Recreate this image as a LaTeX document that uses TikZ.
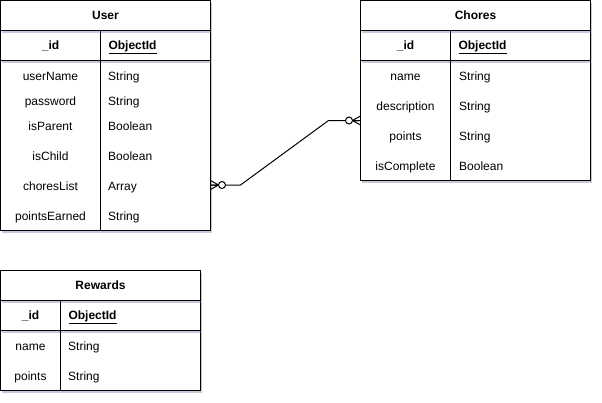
\documentclass[tikz,border=0pt]{standalone}
\usepackage{fontspec}
\setmainfont{Liberation Sans}
\usetikzlibrary{positioning, shadows, calc}
\tikzset{
    box shadow/.style = {
        drop shadow={shadow xshift=1.5pt, shadow yshift=-2.5pt, fill=blue!25!gray, opacity=.35}
    },
    cell/.style = {
        draw, fill=white, line width=1pt, inner sep=0pt, outer sep=0pt,
        font=\fontsize{12}{14}\selectfont, box shadow
    },
    header/.style = {cell, minimum height=30pt, text height=8.6pt, text depth=0pt,
        font=\fontsize{12}{14}\selectfont\bfseries},
    keycell/.style = {cell, minimum height=30pt, text height=8.6pt, text depth=0pt,
        font=\fontsize{12}{14}\selectfont\bfseries},
    typecell/.style = {keycell, align=left, inner xsep=8pt, text width=#1},
    field/.style = {inner sep=0pt, text height=8.6pt, text depth=0pt, font=\fontsize{12}{14}\selectfont},
    kind/.style = {field, anchor=west},
    link/.style = {line width=1pt},
    zero many/.pic = {
        \draw[link] (0,-4.5) -- (8,0) -- (0,4.5) (0,0) -- (8,0);
        \draw[link, fill=white] (11.5,0) circle (3.5);
    }
}
\begin{document}
\begin{tikzpicture}[x=1pt, y=-1pt]
    \useasboundingbox (0,0) rectangle (602,402);

    % User
    \node[cell, minimum width=210pt, minimum height=170pt] (userbody) at (105.5,145.5) {};
    \node[keycell, minimum width=100pt, above right=0pt of userbody.north west] (userid) {\_id};
    \node[typecell=94pt, right=0pt of userid] (useroid) {\underline{ObjectId}};
    \node[header, minimum width=210pt, above right=0pt of userid.north west] (user) {User};
    \draw[line width=1pt] (userid.south east) -- (userid.south east |- userbody.south);
    \foreach \fld/\typ/\y in {userName/String/76, password/String/101, isParent/Boolean/126,
                              isChild/Boolean/156, choresList/Array/186, pointsEarned/String/216} {
        \node[field] (u-\fld) at (50.5,\y) {\fld};
        \node[kind] (u-\fld-t) at (108,\y) {\typ};
    }

    % Chores
    \node[cell, minimum width=230pt, minimum height=120pt] (chbody) at (475.5,120.5) {};
    \node[keycell, minimum width=90pt, above right=0pt of chbody.north west] (chid) {\_id};
    \node[typecell=124pt, right=0pt of chid] (choid) {\underline{ObjectId}};
    \node[header, minimum width=230pt, above right=0pt of chid.north west] (chores) {Chores};
    \draw[line width=1pt] (chid.south east) -- (chid.south east |- chbody.south);
    \foreach \fld/\typ/\y in {name/String/76, description/String/106, points/String/136,
                              isComplete/Boolean/166} {
        \node[field] (c-\fld) at (405.5,\y) {\fld};
        \node[kind] (c-\fld-t) at (459,\y) {\typ};
    }

    % Rewards
    \node[cell, minimum width=200pt, minimum height=60pt] (rwbody) at (100.5,360.5) {};
    \node[keycell, minimum width=60pt, above right=0pt of rwbody.north west] (rwid) {\_id};
    \node[typecell=124pt, right=0pt of rwid] (rwoid) {\underline{ObjectId}};
    \node[header, minimum width=200pt, above right=0pt of rwid.north west] (rewards) {Rewards};
    \draw[line width=1pt] (rwid.south east) -- (rwid.south east |- rwbody.south);
    \foreach \fld/\typ/\y in {name/String/346, points/String/376} {
        \node[field] (r-\fld) at (30.5,\y) {\fld};
        \node[kind] (r-\fld-t) at (68,\y) {\typ};
    }

    % relation
    \coordinate (from) at (userbody.east |- 0,185);
    \coordinate (to) at (chbody.west);
    \draw[link] (from) -- ++(30,0) -- ($(to)+(-32,0)$) -- (to);
    \pic at (from) {zero many};
    \pic[rotate=180] at (to) {zero many};
\end{tikzpicture}
\end{document}
